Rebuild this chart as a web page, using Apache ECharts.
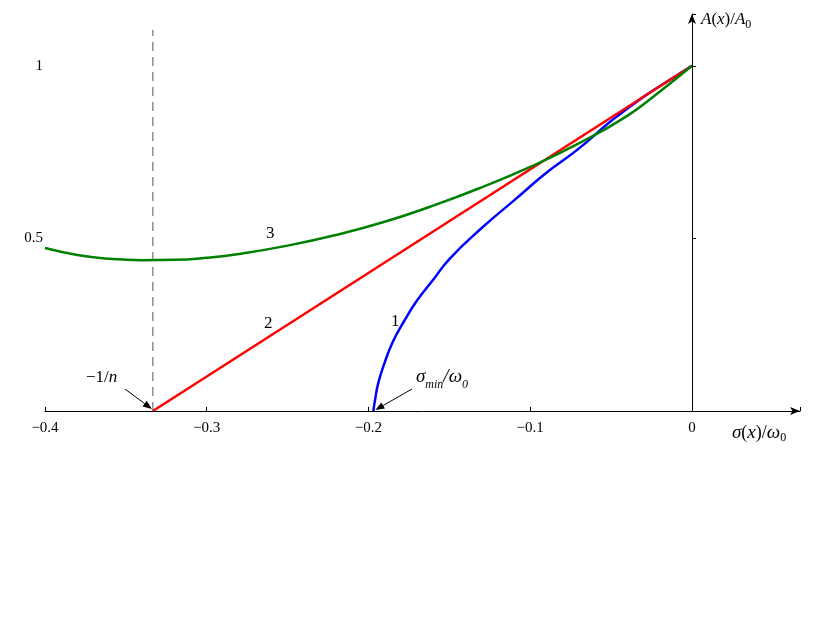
<!DOCTYPE html>
<html><head><meta charset="utf-8">
<script src="https://cdn.jsdelivr.net/npm/echarts@6/dist/echarts.min.js"></script>
<style>html,body{margin:0;background:#fff}#c{width:830px;height:623px}</style>
</head><body><div id="c"></div>
<script>
// curve 1 (blue), 2 (red), 3 (green)
var curve1 = [[-0.197,0],[-0.196,0.03],[-0.194,0.08],[-0.19,0.14],[-0.185,0.2],[-0.178,0.26],[-0.17,0.32],[-0.16,0.38],[-0.15,0.44],[-0.13,0.53],[-0.11,0.61],[-0.09,0.69],[-0.07,0.76],[-0.05,0.84],[-0.03,0.91],[-0.01,0.97],[0,1]];
var curve2 = [[-0.3333,0],[0,1]];
var curve3 = [[-0.4,0.472],[-0.38,0.452],[-0.36,0.441],[-0.34,0.437],[-0.32,0.438],[-0.3,0.444],[-0.28,0.455],[-0.25,0.479],[-0.22,0.51],[-0.19,0.548],[-0.16,0.595],[-0.13,0.648],[-0.1,0.707],[-0.07,0.775],[-0.04,0.855],[-0.02,0.925],[0,1]];
var dashX = -0.3333;
var xTicks = [-0.4,-0.3,-0.2,-0.1,0];
var yTicks = [0.5,1];

var chart = echarts.init(document.getElementById('c'));
var serif = 'Liberation Serif';
chart.setOption({
    animation: false,
    grid: {left: 45, right: 30, top: 14, bottom: 212},
    xAxis: {
        type: 'value', min: -0.4, max: 0.0668, interval: 0.1,
        splitLine: {show: false},
        axisLine: {lineStyle: {color: '#000', width: 1}, symbol: ['none','arrow'], symbolSize: [6,10]},
        axisTick: {show: true, length: 4, inside: true, lineStyle: {color: '#000'}},
        axisLabel: {color: '#000', fontFamily: serif, fontSize: 15, margin: 10,
            formatter: function (v) {
                var r = Math.round(v * 10) / 10;
                if (Math.abs(v - r) > 1e-6) return '';
                return r === 0 ? '0' : '\u2212' + Math.abs(r).toFixed(1);
            }}
    },
    yAxis: {
        type: 'value', min: 0, max: 1.15, interval: 0.5,
        splitLine: {show: false},
        axisLine: {onZero: true, lineStyle: {color: '#000', width: 1}, symbol: ['none','arrow'], symbolSize: [6,10]},
        axisTick: {show: true, length: 4, inside: true, lineStyle: {color: '#000'}},
        axisLabel: {color: '#000', fontFamily: serif, fontSize: 15, margin: 2,
            formatter: function (v) { return yTicks.indexOf(v) >= 0 ? String(v) : ''; }}
    },
    series: [
        {type: 'line', data: curve1, showSymbol: false, smooth: true, lineStyle: {color: '#0000ff', width: 2.5}},
        {type: 'line', data: curve2, showSymbol: false, lineStyle: {color: '#ff0000', width: 2.5}},
        {type: 'line', data: curve3, showSymbol: false, smooth: true, lineStyle: {color: '#008000', width: 2.5}},
        {type: 'line', data: [[dashX,0],[dashX,1.104]], showSymbol: false, lineStyle: {color: '#555', width: 1, type: [9,6]}}
    ]
});

function px(p) { return chart.convertToPixel({gridIndex: 0}, p); }
function arrow(from, to) {
    var a = Math.atan2(to[1]-from[1], to[0]-from[0]);
    var L = 9, w = 3.5;
    var b = [to[0]-L*Math.cos(a), to[1]-L*Math.sin(a)];
    return [
        {type: 'line', shape: {x1: from[0], y1: from[1], x2: b[0], y2: b[1]}, style: {stroke: '#000', lineWidth: 1}},
        {type: 'polygon', shape: {points: [to,
            [b[0]+w*Math.sin(a), b[1]-w*Math.cos(a)],
            [b[0]-w*Math.sin(a), b[1]+w*Math.cos(a)]]}, style: {fill: '#000'}}
    ];
}
var t = {font: '17px ' + serif, fill: '#000'};
function txt(x, y, s, extra) {
    return {type: 'text', x: x, y: y, style: Object.assign({text: s, font: t.font, fill: '#000'}, extra || {})};
}
var p0 = px([dashX, 0]), pm = px([-0.197, 0]);
var g = [].concat(
    arrow([125, 389], [p0[0]-1, p0[1]-2]),
    arrow([412, 389], [pm[0]+2, pm[1]-1]),
    [
        txt(391, 313, '1'), txt(264, 315, '2'), txt(266, 225, '3'),
        {type: 'text', x: 86, y: 369, style: {text: '\u22121/{i|n}', font: t.font, fill: '#000', rich: {i: {font: 'italic 17px ' + serif}}}},
        {type: 'text', x: 416, y: 367, style: {text: '{i|\u03c3}{s|min}{i|/\u03c9}{s|0}', fill: '#000',
            rich: {i: {font: 'italic 19px ' + serif, verticalAlign: 'top'}, s: {font: 'italic 12px ' + serif, padding: [12,0,0,0]}}}},
        {type: 'text', x: 701, y: 9, style: {text: '{i|A}{n|(}{i|x}{n|)/}{i|A}{s|0}', fill: '#000',
            rich: {i: {font: 'italic 17px ' + serif}, n: {font: '17px ' + serif}, s: {font: '12px ' + serif, padding: [10,0,0,0]}}}},
        {type: 'text', x: 732, y: 422, style: {text: '{i|\u03c3}{n|(}{i|x}{n|)/}{i|\u03c9}{s|0}', fill: '#000',
            rich: {i: {font: 'italic 19px ' + serif}, n: {font: '18px ' + serif}, s: {font: '12px ' + serif, padding: [10,0,0,0]}}}}
    ]
);
chart.setOption({graphic: g});
</script>
</body></html>
